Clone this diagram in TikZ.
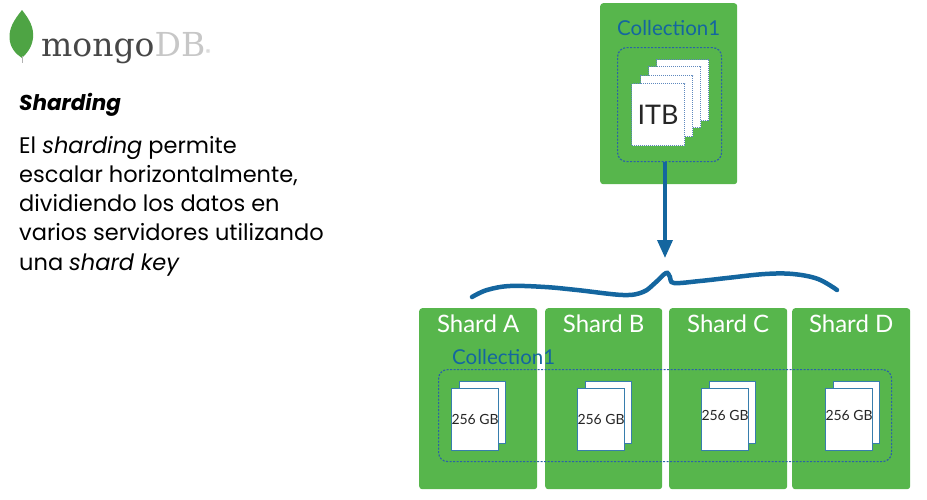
\documentclass[tikz,border=0pt]{standalone}
\usepackage{fontspec}
\usepackage{tikz}
\usepackage{xcolor}
\usetikzlibrary{arrows.meta}
\setmainfont{Poppins}
\newfontfamily\shardfont{Lato}
\newfontfamily\logofont{DejaVu Serif}
\definecolor{mongo-green}{HTML}{57B64C}
\definecolor{mongo-blue}{HTML}{14669F}
\definecolor{dash-blue}{HTML}{2A62A8}
\tikzset{
    shard-box/.style = {fill=mongo-green, rounded corners=3pt, anchor=north west, minimum width=118pt, minimum height=181pt},
    shard-title/.style = {text=white, font=\shardfont\fontsize{24}{24}\selectfont, inner sep=0pt},
    collection-title/.style = {text=mongo-blue, font=\shardfont\fontsize{20.500}{22}\selectfont, inner sep=0pt},
    dotted-box/.style = {draw=dash-blue, dash pattern=on 2pt off 1.500pt, line width=1.200pt, rounded corners=9pt, anchor=north west},
    chunk-page/.style = {draw=dash-blue!75, densely dotted, line width=1pt, fill=white, anchor=north west, minimum width=52pt, minimum height=61pt},
    doc-page/.style = {draw=mongo-blue!85, line width=1pt, fill=white, anchor=north west, minimum width=47pt, minimum height=62pt, inner sep=0pt, font=\shardfont\fontsize{14}{16}\selectfont, text=black!85},
    side-text/.style = {anchor=north west, align=left, inner sep=0pt, font=\fontsize{22.500}{29.200}\selectfont},
}
\begin{document}
\begin{tikzpicture}[x=1pt, y=-1pt]
\useasboundingbox (0,0) rectangle (927,499);

% logo
\fill[mongo-green!90!black] (22,10) .. controls (30,20) and (34,28) .. (33,38) .. controls (32,48) and (26,54) .. (22,58) .. controls (16,54) and (10,48) .. (9.500,38) .. controls (9,28) and (14,20) .. (22,10);
\draw[black!30, line width=0.8pt] (22,56) -- (22,63);
\node[anchor=base west, inner sep=0pt, font=\logofont\fontsize{33}{33}\selectfont] (logo) at (41,56) {\textcolor{black!72}{mongo}\textcolor{black!22}{DB}};
\node[anchor=base west, inner sep=0pt, text=black!22, font=\fontsize{10}{10}\selectfont] (logo-r) at (logo.base east) {\textregistered};

% left text
\node[side-text, font=\fontsize{21.500}{26}\itshape\bfseries\selectfont] (title) at (19,93) {Sharding};
\node[side-text] (body) at (19,136) {El \textit{sharding} permite\\escalar horizontalmente,\\dividiendo los datos en\\varios servidores utilizando\\una \textit{shard key}};

% top collection
\node[shard-box, minimum width=137pt] (source) at (600,3) {};
\node[collection-title, below=17pt] (source-title) at (source.north) {Collection1};
\node[dotted-box, minimum width=104pt, minimum height=114pt] (dataset) at (617,47) {};
\node[chunk-page] (page4) at (656,59) {};
\node[chunk-page] (page3) at (648,66) {};
\node[chunk-page] (page2) at (640,75) {};
\node[chunk-page, minimum width=53pt, minimum height=62pt, font=\shardfont\fontsize{27}{28}\selectfont, text=black!85] (page1) at (631,83) {ITB};

% arrow
\coordinate (arrow-tip) at (665,258);
\draw[-{Triangle[length=18pt, width=15pt]}, draw=mongo-blue, fill=mongo-blue, line width=3.500pt] (dataset.south -| arrow-tip) -- (arrow-tip);

% hand drawn brace
\draw[mongo-blue, line width=4.500pt, line cap=round] plot[smooth, tension=0.6] coordinates {(472,297) (487,290) (510,286) (545,287) (577,290) (623,295) (643,292) (655,283) (666,273) (670,277) (674,283) (700,281) (727,278) (765,274) (793,274) (818,279) (837,290)};

% shards
\node[shard-box] (shard-a) at (419,308) {};
\node[shard-box, minimum width=117pt] (shard-b) at (545,308) {};
\node[shard-box] (shard-c) at (669,308) {};
\node[shard-box] (shard-d) at (792,308) {};
\node[shard-title, below=7pt] at (shard-a.north) {Shard A};
\node[shard-title, below=7pt] at (shard-b.north) {Shard B};
\node[shard-title, below=7pt] at (shard-c.north) {Shard C};
\node[shard-title, below=7pt] at (shard-d.north) {Shard D};

% collection across shards
\node[dotted-box, minimum width=453pt, minimum height=92pt] (spread) at (438,369) {};
\node[collection-title, anchor=base west] (spread-title) at (452,364) {Collection1};

% chunks
\node[doc-page, minimum width=46pt] (back-a) at (459,381) {};
\node[doc-page] (doc-a) at (451,387.500) {256 GB};
\node[doc-page, minimum width=46pt] (back-b) at (585,381) {};
\node[doc-page] (doc-b) at (577,387.500) {256 GB};
\node[doc-page, minimum width=46pt] (back-c) at (709,381) {};
\node[doc-page, text depth=8pt] (doc-c) at (701,387.500) {256 GB};
\node[doc-page, minimum width=46pt] (back-d) at (833,381) {};
\node[doc-page, text depth=8pt] (doc-d) at (825,387.500) {256 GB};
\end{tikzpicture}
\end{document}
